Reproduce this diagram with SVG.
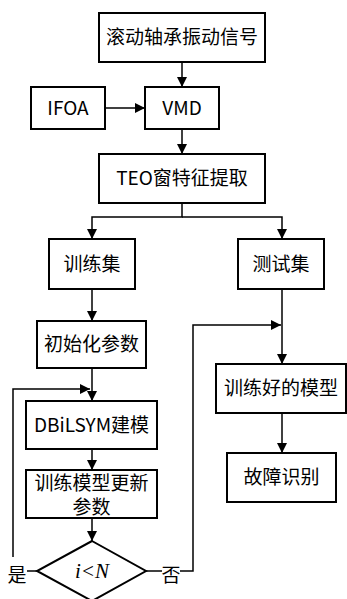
<svg xmlns="http://www.w3.org/2000/svg" width="347" height="599" viewBox="0 0 347 599">
<defs>
<style>
.b{fill:#fff;stroke:#000;stroke-width:2}
.t{font-family:"Noto Sans CJK SC","Noto Sans",sans-serif;font-size:19px;fill:#000;text-anchor:middle}
.c{fill:none;stroke:#000;stroke-width:1.5}
</style>
<marker id="a" viewBox="0 0 10 10" refX="10" refY="5" markerWidth="10" markerHeight="10" markerUnits="userSpaceOnUse" orient="auto">
<path d="M0,0 L10,5 L0,10 Z" fill="#000"/>
</marker>
</defs>
<rect width="347" height="599" fill="#fff"/>
<g id="connectors">
<line class="c" x1="182" y1="62" x2="182" y2="87" marker-end="url(#a)"/>
<line class="c" x1="105" y1="108" x2="145" y2="108" marker-end="url(#a)"/>
<line class="c" x1="182" y1="129" x2="182" y2="154" marker-end="url(#a)"/>
<polyline class="c" points="182,203 182,217 92,217 92,239" marker-end="url(#a)"/>
<polyline class="c" points="182,217 282,217 282,239" marker-end="url(#a)"/>
<line class="c" x1="92" y1="289" x2="92" y2="321" marker-end="url(#a)"/>
<line class="c" x1="92" y1="368" x2="92" y2="401" marker-end="url(#a)"/>
<line class="c" x1="92" y1="449" x2="92" y2="470" marker-end="url(#a)"/>
<line class="c" x1="92" y1="518" x2="92" y2="541" marker-end="url(#a)"/>
<polyline class="c" points="13,557 13,389 90,389" marker-end="url(#a)"/>
<line class="c" x1="27" y1="571" x2="37" y2="571"/>
<line class="c" x1="146" y1="571" x2="162" y2="571"/>
<polyline class="c" points="180,571 193,571 193,325 281,325" marker-end="url(#a)"/>
<line class="c" x1="282" y1="289" x2="282" y2="364" marker-end="url(#a)"/>
<line class="c" x1="282" y1="413" x2="282" y2="453" marker-end="url(#a)"/>
</g>
<g id="n1"><rect class="b" x="99" y="13" width="166" height="49"/><text class="t" x="182" y="44">滚动轴承振动信号</text></g>
<g id="n2"><rect class="b" x="31" y="87" width="74" height="42"/><text class="t" x="68" y="115">IFOA</text></g>
<g id="n3"><rect class="b" x="145" y="87" width="74" height="42"/><text class="t" x="182" y="115">VMD</text></g>
<g id="n4"><rect class="b" x="99" y="154" width="166" height="49"/><text class="t" x="182" y="185">TEO窗特征提取</text></g>
<g id="n5"><rect class="b" x="49" y="239" width="86" height="50"/><text class="t" x="92" y="271">训练集</text></g>
<g id="n6"><rect class="b" x="238" y="239" width="86" height="50"/><text class="t" x="281" y="271">测试集</text></g>
<g id="n7"><rect class="b" x="37" y="321" width="109" height="47"/><text class="t" x="91.5" y="351">初始化参数</text></g>
<g id="n8"><rect class="b" x="26" y="401" width="131" height="48"/><text class="t" x="91.5" y="432">DBiLSYM建模</text></g>
<g id="n9"><rect class="b" x="26" y="470" width="131" height="48"/><text class="t" x="91.5" y="490">训练模型更新</text><text class="t" x="91.5" y="514">参数</text></g>
<g id="n10"><polygon class="b" points="92,541 146,571 92,601 37,571"/><text x="92" y="578" font-family="Liberation Serif,serif" font-style="italic" font-size="21" text-anchor="middle">i&lt;N</text></g>
<g id="n11"><rect class="b" x="216" y="364" width="130" height="49"/><text class="t" x="281" y="395">训练好的模型</text></g>
<g id="n12"><rect class="b" x="227" y="453" width="109" height="49"/><text class="t" x="281.5" y="484">故障识别</text></g>
<text class="t" x="17" y="582">是</text>
<text class="t" x="171" y="582">否</text>
</svg>
